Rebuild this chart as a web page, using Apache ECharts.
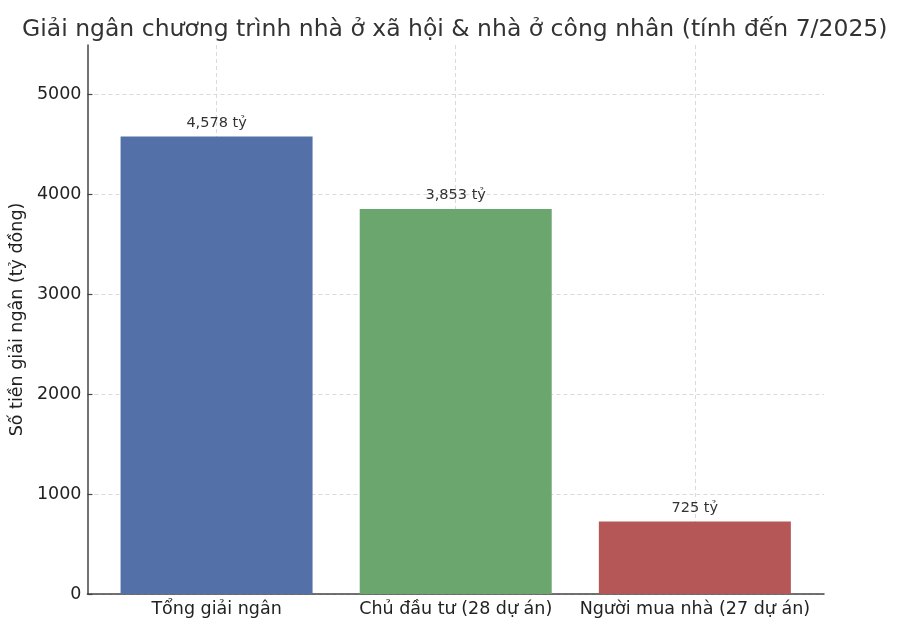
<!DOCTYPE html>
<html>
<head>
<meta charset="utf-8">
<script src="https://cdn.jsdelivr.net/npm/echarts@6/dist/echarts.min.js"></script>
<style>html,body{margin:0;padding:0;background:#fff}#c{width:900px;height:635px}</style>
</head>
<body>
<div id="c"></div>
<script>
const titleText = 'Giải ngân chương trình nhà ở xã hội & nhà ở công nhân (tính đến 7/2025)';
const yAxisName = 'Số tiền giải ngân (tỷ đồng)';
const categories = ['Tổng giải ngân', 'Chủ đầu tư (28 dự án)', 'Người mua nhà (27 dự án)'];
const values = [4578, 3853, 725];
const barColors = ['#5470A9', '#6AA66E', '#B55657'];
const yTicks = [0, 1000, 2000, 3000, 4000, 5000];
const xPositions = [0, 1, 2];

const font = 'DejaVu Sans';
const chart = echarts.init(document.getElementById('c'), null, {renderer: 'canvas'});
const yMax = Math.max(...values) * 1.2;

chart.setOption({
  animation: false,
  backgroundColor: '#fff',
  title: {
    text: titleText, left: 17, top: 13,
    textStyle: {fontFamily: font, fontSize: 23.5, fontWeight: 'normal', color: '#333'}
  },
  grid: {left: 84, right: 76, top: 45, bottom: 41, containLabel: false},
  xAxis: {
    type: 'value', min: -0.54, max: 2.54,
    axisLine: {show: true, onZero: false, lineStyle: {color: '#444', width: 1.5}},
    axisTick: {show: true, inside: true, length: 5, customValues: xPositions, lineStyle: {color: '#444', width: 1.2}},
    axisLabel: {customValues: xPositions, margin: 6, fontFamily: font, fontSize: 17.5, color: '#222',
      formatter: v => categories[Math.round(v)] || ''},
    splitLine: {show: true, lineStyle: {color: '#d0d0d0', type: [4, 3], width: 0.8}}
  },
  yAxis: {
    type: 'value', min: 0, max: yMax,
    name: yAxisName, nameLocation: 'middle', nameGap: 56, nameRotate: 90,
    nameTextStyle: {fontFamily: font, fontSize: 17.5, color: '#222'},
    axisLine: {show: true, onZero: false, lineStyle: {color: '#444', width: 1.5}},
    axisTick: {show: true, inside: true, length: 5, customValues: yTicks, lineStyle: {color: '#444', width: 1.2}},
    axisLabel: {customValues: yTicks, margin: 6, fontFamily: font, fontSize: 17.5, color: '#222',
      formatter: v => String(v)},
    splitLine: {show: true, lineStyle: {color: '#d0d0d0', type: [4, 3], width: 0.8}}
  },
  series: [{
    type: 'bar',
    barWidth: 192,
    data: values.map((v, i) => ({value: [xPositions[i], v], itemStyle: {color: barColors[i]}})),
    label: {
      show: true, position: 'top', distance: 6,
      fontFamily: font, fontSize: 14.5, color: '#333',
      formatter: p => p.value[1].toLocaleString('en-US') + ' tỷ'
    }
  }]
});
</script>
</body>
</html>
